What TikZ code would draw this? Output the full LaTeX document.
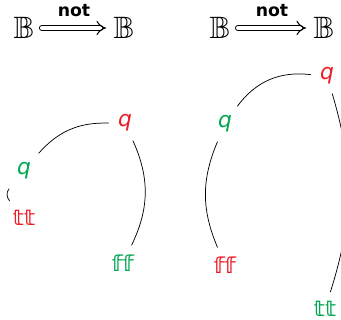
\documentclass[tikz,border=0pt]{standalone}
\usepackage{amssymb}
\usepackage{fontspec}
\setmainfont{DejaVu Sans}
\usetikzlibrary{arrows.meta}
\definecolor{qred}{RGB}{237,28,36}
\definecolor{qgreen}{RGB}{0,166,81}
\begin{document}
\begin{tikzpicture}[x=0.55pt, y=-0.55pt, line join=round, line cap=round,
	bset/.style={inner sep=4pt, font=\fontsize{17}{18}\selectfont},
	lbl/.style={inner sep=0pt, font=\fontsize{9.5}{10}\selectfont\bfseries},
	vtx/.style={inner sep=5pt, font=\fontsize{12}{14}\selectfont},
	bool/.style={vtx, font=\fontsize{12}{14}\selectfont\bfseries},
	imp/.style={line width=0.55pt, double, double distance=2.2pt, -{Implies}}]
	\useasboundingbox (0,0) rectangle (341,320);
	% B => B
	\node[bset] (bL1) at (24,28) {$\mathbb{B}$};
	\node[bset] (bL2) at (124,28) {$\mathbb{B}$};
	\draw[imp] (bL1) -- node[lbl, above=6pt] {not} (bL2);
	\node[bset] (bR1) at (220,28) {$\mathbb{B}$};
	\node[bset] (bR2) at (324,28) {$\mathbb{B}$};
	\draw[imp] (bR1) -- node[lbl, above=6pt] {not} (bR2);
	% left tree
	\node[vtx, text=qred] (rqL) at (125,123) {\textit{q}};
	\node[vtx, text=qgreen] (gqL) at (24,171) {\textit{q}};
	\node[bool, text=qred] (ttL) at (24,218) {𝕥𝕥};
	\node[bool, text=qgreen] (ffL) at (123,263) {𝕗𝕗};
	\draw (gqL) to[bend left=25] (rqL);
	\draw (rqL) to[bend left=25] (ffL);
	\draw (gqL) to[out=230, in=130] (ttL);
	% right tree
	\node[vtx, text=qred] (rqR) at (327,76) {\textit{q}};
	\node[vtx, text=qgreen] (gqR) at (225,124) {\textit{q}};
	\node[bool, text=qred] (ffR) at (225,265) {𝕗𝕗};
	\node[bool, text=qgreen] (ttR) at (325,309) {𝕥𝕥};
	\draw (gqR) to[bend left=30] (rqR);
	\draw (gqR) to[bend right=23] (ffR);
	\draw (rqR) to[bend left=17] (ttR);
\end{tikzpicture}
\end{document}
